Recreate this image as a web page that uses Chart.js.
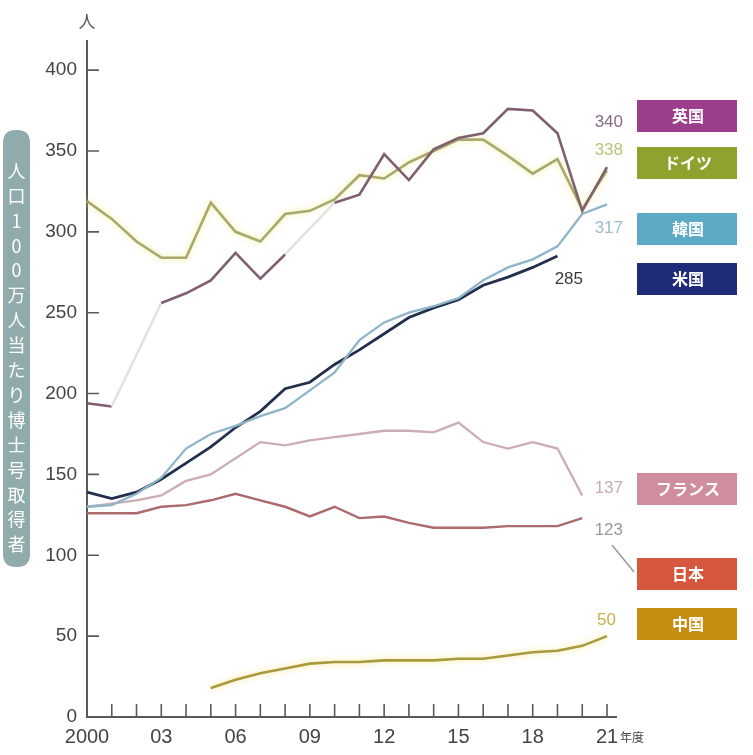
<!DOCTYPE html>
<html lang="ja">
<head>
<meta charset="utf-8">
<title>人口100万人当たり博士号取得者</title>
<script src="https://cdn.jsdelivr.net/npm/chart.js@4.4.1/dist/chart.umd.min.js"></script>
<style>
  html, body { margin: 0; padding: 0; background: #ffffff; }
  #wrap { width: 753px; height: 755px; }
</style>
</head>
<body>
<div id="wrap"><canvas id="chart" width="753" height="755"></canvas></div>
<script>
// Fiscal years 2000–2021 (axis shows 2000, 03, 06 … 21年度)
const years = ['2000','01','02','03','04','05','06','07','08','09','10',
               '11','12','13','14','15','16','17','18','19','20','21'];

// Doctorate holders per million population (人)
const uk      = [194,192,null,256,262,270,287,271,286,null,318,323,348,332,351,358,361,376,375,361,313,340];
const germany = [319,308,294,284,284,318,300,294,311,313,320,335,333,343,350,357,357,347,336,345,314,338];
const korea   = [130,131,138,148,166,175,180,186,191,202,213,233,244,250,254,259,270,278,283,291,311,317];
const usa     = [139,135,139,147,157,167,179,189,203,207,218,227,237,247,253,258,267,272,278,285,null,null];
const france  = [130,132,134,137,146,150,160,170,168,171,173,175,177,177,176,182,170,166,170,166,137,null];
const japan   = [126,126,126,130,131,134,138,134,130,124,130,123,124,120,117,117,117,118,118,118,123,null];
const china   = [null,null,null,null,null,18,23,27,30,33,34,34,35,35,35,36,36,38,40,41,44,50];

const seriesNames = ['英国','ドイツ','韓国','米国','フランス','日本','中国'];
const yTicks = [0,50,100,150,200,250,300,350,400];
const yTitle = '人口100万人当たり博士号取得者';

const NUM_FONT = '"Liberation Sans", Arial, sans-serif';
const JP_FONT = '"Noto Sans CJK JP", "Noto Sans", sans-serif';

// Line styles per series
const styles = {
  '英国':   { line: '#7f5f72', box: '#9b3f8d', label: '#8a6a86', labelX: 623, labelY: 122, width: 2.6 },
  'ドイツ': { line: '#aaa86c', box: '#8ea32d', label: '#bcc47a', labelX: 623, labelY: 150, width: 2.6, glow: 'rgba(235,235,140,0.9)' },
  '韓国':   { line: '#8db5c7', box: '#5daac5', label: '#9cbccb', labelX: 623, labelY: 228, width: 2.3 },
  '米国':   { line: '#22304e', box: '#1f2b78', label: '#3a3a3a', labelX: 583, labelY: 279, width: 2.8 },
  'フランス': { line: '#cbadb5', box: '#d08d9d', label: '#c9aab2', labelX: 623, labelY: 488, width: 2.3 },
  '日本':   { line: '#ad6a6c', box: '#d5573d', label: '#9a9a9a', labelX: 623, labelY: 530, width: 2.4 },
  '中国':   { line: '#a99a3e', box: '#c58e10', label: '#c8b04c', labelX: 616, labelY: 620, width: 2.6, glow: 'rgba(245,225,120,0.9)' }
};
const boxTops = { '英国': 100, 'ドイツ': 147, '韓国': 213, '米国': 263, 'フランス': 473, '日本': 558, '中国': 608 };

const values = [uk, germany, korea, usa, france, japan, china];
const gapColor = '#e2e2e2';

const datasets = seriesNames.map((name, i) => ({
  label: name,
  data: values[i],
  borderColor: styles[name].line,
  borderWidth: styles[name].width,
  pointRadius: 0,
  pointHoverRadius: 0,
  tension: 0,
  fill: false,
  spanGaps: true,
  segment: {
    borderColor: ctx => (ctx.p0.skip || ctx.p1.skip) ? gapColor : undefined
  }
}));

function lastValue(arr) {
  for (let i = arr.length - 1; i >= 0; i--) if (arr[i] !== null) return arr[i];
  return null;
}

function roundRect(ctx, x, y, w, h, r) {
  ctx.beginPath();
  ctx.moveTo(x + r, y);
  ctx.lineTo(x + w - r, y);
  ctx.quadraticCurveTo(x + w, y, x + w, y + r);
  ctx.lineTo(x + w, y + h - r);
  ctx.quadraticCurveTo(x + w, y + h, x + w - r, y + h);
  ctx.lineTo(x + r, y + h);
  ctx.quadraticCurveTo(x, y + h, x, y + h - r);
  ctx.lineTo(x, y + r);
  ctx.quadraticCurveTo(x, y, x + r, y);
  ctx.closePath();
}

// Soft halo behind some lines
const glowPlugin = {
  id: 'glow',
  beforeDatasetDraw(chart, args) {
    const st = styles[chart.data.datasets[args.index].label];
    const ctx = chart.ctx;
    ctx.save();
    if (st.glow) {
      ctx.shadowColor = st.glow;
      ctx.shadowBlur = 6;
    }
  },
  afterDatasetDraw(chart) {
    chart.ctx.restore();
  }
};

// Axis lines, inner tick marks, titles, series tags and end values
const decorPlugin = {
  id: 'decor',
  beforeDatasetsDraw(chart) {
    const { ctx, scales: { x, y } } = chart;
    const x0 = x.getPixelForValue(0);
    const y0 = y.getPixelForValue(0);
    const xEnd = x.getPixelForValue(years.length - 1);
    ctx.save();
    ctx.strokeStyle = '#5a5a5a';
    ctx.lineWidth = 2;
    ctx.beginPath();
    ctx.moveTo(x0, chart.chartArea.top - 1);
    ctx.lineTo(x0, y0);
    ctx.lineTo(xEnd + 10, y0);
    ctx.stroke();
    ctx.lineWidth = 1.6;
    ctx.beginPath();
    for (let i = 1; i < years.length; i++) {
      const px = x.getPixelForValue(i);
      ctx.moveTo(px, y0);
      ctx.lineTo(px, y0 - 13);
    }
    yTicks.forEach(v => {
      if (v === 0) return;
      const py = y.getPixelForValue(v);
      ctx.moveTo(x0, py);
      ctx.lineTo(x0 + 12, py);
    });
    ctx.stroke();
    ctx.restore();
  },
  afterDraw(chart) {
    const { ctx, scales: { x, y } } = chart;
    const x0 = x.getPixelForValue(0);
    const xEnd = x.getPixelForValue(years.length - 1);
    ctx.save();

    // unit
    ctx.fillStyle = '#555';
    ctx.font = '17px ' + JP_FONT;
    ctx.textAlign = 'center';
    ctx.textBaseline = 'middle';
    ctx.fillText('人', x0, 22);

    // fiscal-year suffix
    ctx.fillStyle = '#444';
    ctx.font = '12px ' + JP_FONT;
    ctx.textAlign = 'left';
    ctx.fillText('年度', xEnd + 13, 737);

    // vertical axis title
    ctx.fillStyle = '#8fabab';
    roundRect(ctx, 3, 130, 27, 437, 13);
    ctx.fill();
    ctx.fillStyle = '#ffffff';
    ctx.font = '18px ' + JP_FONT;
    ctx.textAlign = 'center';
    const chars = Array.from(yTitle);
    chars.forEach((ch, i) => {
      ctx.fillText(ch, 16.5, 171 + i * 24.9);
    });

    // series tags
    seriesNames.forEach(name => {
      const st = styles[name];
      const top = boxTops[name];
      ctx.fillStyle = st.box;
      ctx.fillRect(637, top, 100, 32);
      ctx.fillStyle = '#ffffff';
      ctx.font = 'bold 16px ' + JP_FONT;
      ctx.textAlign = 'center';
      ctx.textBaseline = 'middle';
      ctx.fillText(name, 688, top + 16);
    });

    // end values
    seriesNames.forEach((name, i) => {
      const st = styles[name];
      ctx.fillStyle = st.label;
      ctx.font = '17px ' + NUM_FONT;
      ctx.textAlign = 'right';
      ctx.textBaseline = 'middle';
      ctx.fillText(String(lastValue(values[i])), st.labelX, st.labelY);
    });

    // leader from Japan's value to its tag
    ctx.strokeStyle = '#9a9a9a';
    ctx.lineWidth = 1.5;
    ctx.beginPath();
    ctx.moveTo(612, 545);
    ctx.lineTo(634, 572);
    ctx.stroke();

    ctx.restore();
  }
};

new Chart(document.getElementById('chart'), {
  type: 'line',
  data: { labels: years, datasets },
  options: {
    responsive: false,
    animation: false,
    devicePixelRatio: 1,
    layout: { padding: { top: 41, right: 146, bottom: 0, left: 0 } },
    plugins: { legend: { display: false }, tooltip: { enabled: false } },
    scales: {
      x: {
        type: 'category',
        offset: false,
        grid: { display: false, drawTicks: false },
        border: { display: false },
        ticks: {
          autoSkip: false,
          maxRotation: 0,
          padding: 8,
          color: '#444',
          font: { family: NUM_FONT, size: 20 },
          callback(val, i) { return i % 3 === 0 ? this.getLabelForValue(val) : ''; }
        },
        afterFit(scale) { scale.height = 38; }
      },
      y: {
        min: 0,
        max: 418,
        grid: { display: false, drawTicks: false },
        border: { display: false },
        ticks: {
          stepSize: 50,
          includeBounds: false,
          padding: 10,
          color: '#444',
          font: { family: NUM_FONT, size: 19 }
        },
        afterFit(scale) { scale.width = 87; }
      }
    }
  },
  plugins: [glowPlugin, decorPlugin]
});
</script>
</body>
</html>
